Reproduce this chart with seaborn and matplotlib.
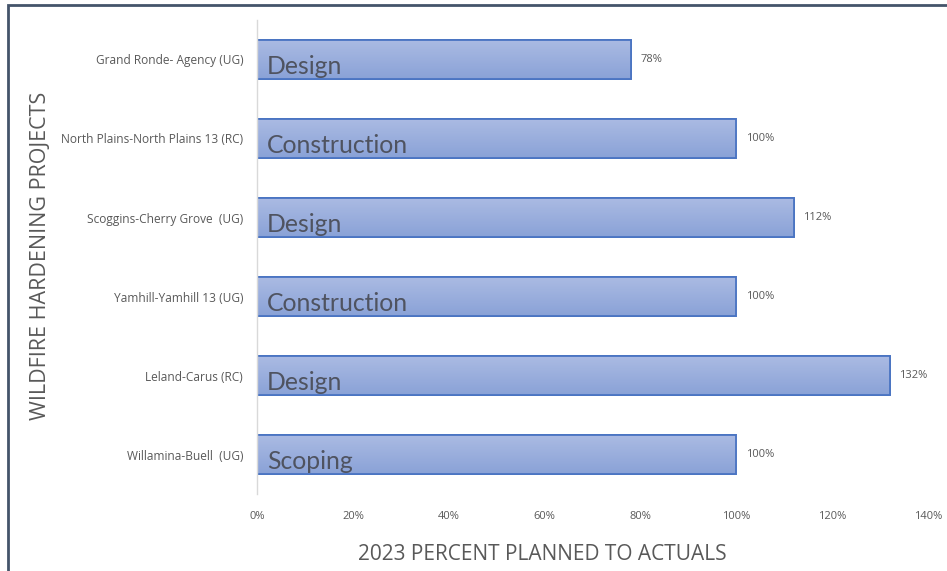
import numpy as np
import pandas as pd
import matplotlib
matplotlib.use("Agg")
import matplotlib.pyplot as plt
from matplotlib.colors import LinearSegmentedColormap
from matplotlib.patches import Rectangle
import seaborn as sns

projects = [
    "Grand Ronde- Agency (UG)",
    "North Plains-North Plains 13 (RC)",
    "Scoggins-Cherry Grove  (UG)",
    "Yamhill-Yamhill 13 (UG)",
    "Leland-Carus (RC)",
    "Willamina-Buell  (UG)",
]
percent = [78, 100, 112, 100, 132, 100]
phase = ["Design", "Construction", "Design", "Construction", "Design", "Scoping"]
x_ticks = [0, 20, 40, 60, 80, 100, 120, 140]

df = pd.DataFrame({"project": projects, "percent": percent, "phase": phase})

sns.set_theme(style="white")
plt.rcParams["font.family"] = ["Open Sans", "DejaVu Sans"]

fig = plt.figure(figsize=(9.47, 5.71), dpi=100)
ax = fig.add_axes([0.2714, 0.1348, 0.7086, 0.8302])

edge = "#4a74c2"
sns.barplot(data=df, x="percent", y="project", order=projects, orient="h",
            color="#9aaede", width=0.495, edgecolor=edge, linewidth=1.3,
            saturation=1, ax=ax)

# vertical gradient fill clipped to each bar
grad = LinearSegmentedColormap.from_list("bar", ["#abbbe3", "#8aa2d7"])
for patch in ax.patches:
    x0, y0 = patch.get_x(), patch.get_y()
    w, h = patch.get_width(), patch.get_height()
    img = ax.imshow(np.linspace(0, 1, 64).reshape(-1, 1), cmap=grad,
                    extent=[x0, x0 + w, y0 + h, y0], aspect="auto",
                    origin="upper", zorder=patch.get_zorder() + 0.1)
    img.set_clip_path(patch)
    border = Rectangle((x0, y0), w, h, fill=False, edgecolor=edge,
                       linewidth=1.3, zorder=patch.get_zorder() + 0.2)
    ax.add_patch(border)

for i, (val, ph) in enumerate(zip(percent, phase)):
    ax.text(2.1, i + 0.09, ph, va="center", ha="left", fontsize=17.8,
            color="#4f5360", family=["Lato", "DejaVu Sans"], zorder=5)
    ax.text(val + 2.0, i, f"{val}%", va="center", ha="left", fontsize=8,
            color="#595959", zorder=5)

ax.set_xlim(0, 140)
ax.set_ylim(len(projects) - 0.5, -0.5)
ax.set_xticks(x_ticks)
ax.set_xticklabels([f"{t}%" for t in x_ticks], fontsize=8, color="#595959")
ax.tick_params(axis="x", length=0, pad=12)
ax.tick_params(axis="y", length=0, pad=10, labelsize=8.6, labelcolor="#595959")

for side in ["top", "right", "bottom"]:
    ax.spines[side].set_visible(False)
ax.spines["left"].set_color("#d9d9d9")
ax.spines["left"].set_linewidth(1.0)

ax.set_xlabel("")
ax.set_ylabel("")
fig.text(542 / 947, 1 - 555 / 571, "2023 PERCENT PLANNED TO ACTUALS",
         fontsize=15, color="#595959", ha="center", va="center")
fig.text(40 / 947, 1 - 256 / 571, "WILDFIRE HARDENING PROJECTS", rotation=90,
         fontsize=15.5, color="#595959", ha="center", va="center")

# outer frame along left and top edges
fig.add_artist(Rectangle((8 / 947, -0.1), 1.2, 1 - 5 / 571 + 0.1,
                         transform=fig.transFigure, fill=False,
                         edgecolor="#44546a", linewidth=2))

fig.savefig("out.png", dpi=100)
